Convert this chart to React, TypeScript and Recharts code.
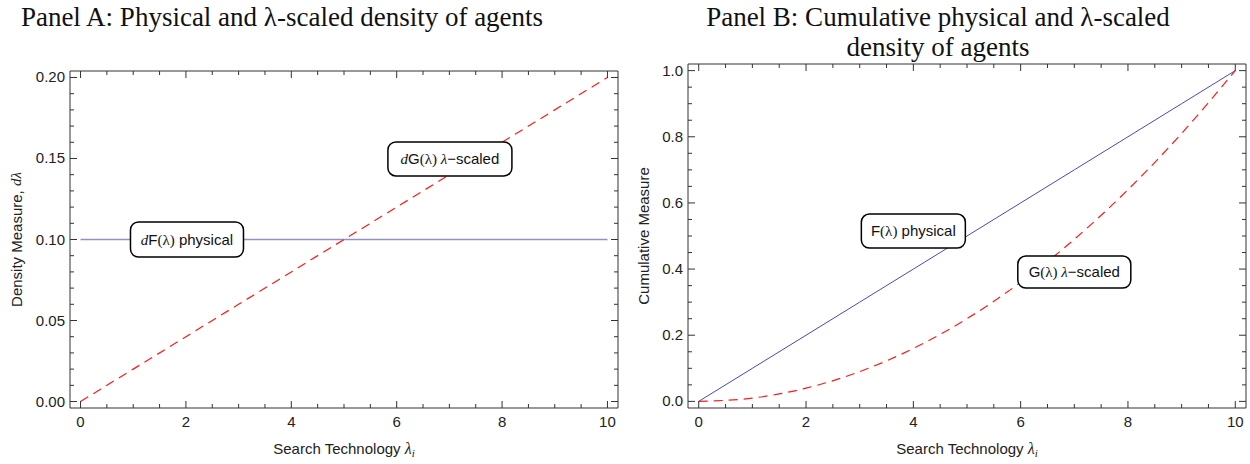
import { LineChart, Line, XAxis, YAxis, ReferenceDot } from "recharts";

// values
const lambdaValues = [0, 1, 2, 3, 4, 5, 6, 7, 8, 9, 10];
const densityPhysical = [0.1, 0.1, 0.1, 0.1, 0.1, 0.1, 0.1, 0.1, 0.1, 0.1, 0.1];
const densityScaled = [0, 0.02, 0.04, 0.06, 0.08, 0.1, 0.12, 0.14, 0.16, 0.18, 0.2];
const cumulativePhysical = [0, 0.1, 0.2, 0.3, 0.4, 0.5, 0.6, 0.7, 0.8, 0.9, 1.0];
const cumulativeScaled = [0, 0.01, 0.04, 0.09, 0.16, 0.25, 0.36, 0.49, 0.64, 0.81, 1.0];

const xMajorTicks = [0, 2, 4, 6, 8, 10];
const xMinorTicks = [0.5, 1, 1.5, 2.5, 3, 3.5, 4.5, 5, 5.5, 6.5, 7, 7.5, 8.5, 9, 9.5];
const densityMajorTicks = [0, 0.05, 0.1, 0.15, 0.2];
const densityMinorTicks = [
  0.01, 0.02, 0.03, 0.04, 0.06, 0.07, 0.08, 0.09, 0.11, 0.12, 0.13, 0.14, 0.16, 0.17, 0.18, 0.19,
];
const cumulativeMajorTicks = [0, 0.2, 0.4, 0.6, 0.8, 1.0];
const cumulativeMinorTicks = [0.05, 0.1, 0.15, 0.25, 0.3, 0.35, 0.45, 0.5, 0.55, 0.65, 0.7, 0.75, 0.85, 0.9, 0.95];

const densityData = lambdaValues.map((x, i) => ({ x, dF: densityPhysical[i], dG: densityScaled[i] }));
const cumulativeData = lambdaValues.map((x, i) => ({ x, F: cumulativePhysical[i], G: cumulativeScaled[i] }));

const SANS = "'Liberation Sans', Arial, sans-serif";
const SERIF = "'Liberation Serif', 'Times New Roman', serif";
const FRAME = "#333";
const TICK_GAP = 5;
const MAJOR_LEN = 7;
const MINOR_LEN = 4;
const FS = 15;

const allTicks = (a: number[], b: number[]) => [...a, ...b].sort((p, q) => p - q);

function frameTick(side: "bottom" | "top" | "left" | "right", majors: number[], digits: number) {
  return function FrameTick(props: any) {
    const { x, y, payload } = props;
    const v = payload.value as number;
    const major = majors.some((m) => Math.abs(m - v) < 1e-9);
    const len = major ? MAJOR_LEN : MINOR_LEN;
    let mark = null;
    let label = null;
    if (side === "bottom") {
      const ay = y - TICK_GAP;
      mark = <line x1={x} x2={x} y1={ay} y2={ay - len} stroke={FRAME} />;
      if (major)
        label = (
          <text x={x} y={ay + 19} textAnchor="middle" fontSize={FS} fontFamily={SANS} fill="#222">
            {v.toFixed(digits)}
          </text>
        );
    } else if (side === "top") {
      const ay = y + TICK_GAP;
      mark = <line x1={x} x2={x} y1={ay} y2={ay + len} stroke={FRAME} />;
    } else if (side === "left") {
      const ax = x + TICK_GAP;
      mark = <line x1={ax} x2={ax + len} y1={y} y2={y} stroke={FRAME} />;
      if (major)
        label = (
          <text x={ax - 5} y={y + 5} textAnchor="end" fontSize={FS} fontFamily={SANS} fill="#222">
            {v.toFixed(digits)}
          </text>
        );
    } else {
      const ax = x - TICK_GAP;
      mark = <line x1={ax} x2={ax - len} y1={y} y2={y} stroke={FRAME} />;
    }
    return (
      <g>
        {mark}
        {label}
      </g>
    );
  };
}

type Part = { t: string; serif?: boolean; italic?: boolean };

const renderParts = (parts: Part[]) =>
  parts.map((p, i) => (
    <tspan key={i} fontFamily={p.serif ? SERIF : SANS} fontStyle={p.italic ? "italic" : "normal"}>
      {p.t}
    </tspan>
  ));

function boxShape(parts: Part[], width: number, height: number) {
  return function BoxShape(props: any) {
    const { cx, cy } = props;
    return (
      <g>
        <rect
          x={cx - width / 2}
          y={cy - height / 2}
          width={width}
          height={height}
          rx={8}
          ry={8}
          fill="#fff"
          stroke="#000"
          strokeWidth={1.5}
        />
        <text x={cx} y={cy + 5} textAnchor="middle" fontSize={FS} fontFamily={SANS} fill="#111">
          {renderParts(parts)}
        </text>
      </g>
    );
  };
}

const xAxisTitle = (props: any) => {
  const { x, y, width } = props.viewBox;
  return (
    <text x={x + width / 2} y={y + 46} textAnchor="middle" fontSize={FS} fontFamily={SANS} fill="#222">
      Search Technology{" "}
      <tspan fontFamily={SERIF} fontStyle="italic" fontSize={16}>
        λ
      </tspan>
      <tspan fontFamily={SERIF} fontStyle="italic" fontSize={11} dy={3}>
        i
      </tspan>
    </text>
  );
};

function yAxisTitle(cx: number, parts: Part[]) {
  return function YTitle(props: any) {
    const { y, height } = props.viewBox;
    const cy = y + height / 2;
    return (
      <text
        x={cx}
        y={cy}
        transform={`rotate(-90 ${cx} ${cy})`}
        textAnchor="middle"
        dominantBaseline="middle"
        fontSize={FS}
        fontFamily={SANS}
        fill="#222"
      >
        {renderParts(parts)}
      </text>
    );
  };
}

const titleStyle: React.CSSProperties = {
  position: "absolute",
  fontFamily: SERIF,
  fontSize: 27,
  lineHeight: "30px",
  color: "#111",
  textAlign: "center",
  whiteSpace: "nowrap",
};

export default function App() {
  const xTicks = allTicks(xMajorTicks, xMinorTicks);
  const densityTicks = allTicks(densityMajorTicks, densityMinorTicks);
  const cumulativeTicks = allTicks(cumulativeMajorTicks, cumulativeMinorTicks);
  const xDomain = [-0.2, 10.2];
  const densityDomain = [-0.004, 0.204];
  const cumulativeDomain = [-0.02, 1.02];
  const commonAxis = {
    tickLine: false,
    tickSize: 0,
    tickMargin: TICK_GAP,
    interval: 0 as const,
    axisLine: { stroke: FRAME },
    allowDataOverflow: true,
    type: "number" as const,
  };

  return (
    <div style={{ position: "absolute", left: 0, top: 0, width: 1250, height: 464, background: "#fff" }}>
      <div style={{ ...titleStyle, left: 0, width: 564, top: 2 }}>
        Panel A: Physical and λ-scaled density of agents
      </div>
      <div style={{ ...titleStyle, left: 625, width: 626, top: 2 }}>
        Panel B: Cumulative physical and λ-scaled
        <br />
        density of agents
      </div>

      <div style={{ position: "absolute", left: 0, top: 0 }}>
        <LineChart width={625} height={464} data={densityData} margin={{ top: 70, right: 6, bottom: 0, left: 0 }}>
          <XAxis
            xAxisId={0}
            dataKey="x"
            domain={xDomain}
            ticks={xTicks}
            height={56}
            tick={frameTick("bottom", xMajorTicks, 0)}
            label={xAxisTitle}
            {...commonAxis}
          />
          <XAxis
            xAxisId="top"
            orientation="top"
            dataKey="x"
            domain={xDomain}
            ticks={xTicks}
            height={1}
            tick={frameTick("top", xMajorTicks, 0)}
            {...commonAxis}
          />
          <YAxis
            yAxisId={0}
            domain={densityDomain}
            ticks={densityTicks}
            width={70}
            tick={frameTick("left", densityMajorTicks, 2)}
            label={yAxisTitle(18, [{ t: "Density Measure, " }, { t: "dλ", serif: true, italic: true }])}
            {...commonAxis}
          />
          <YAxis
            yAxisId="right"
            orientation="right"
            domain={densityDomain}
            ticks={densityTicks}
            width={1}
            tick={frameTick("right", densityMajorTicks, 2)}
            {...commonAxis}
          />
          <Line
            type="linear"
            dataKey="dF"
            stroke="#9191c6"
            strokeWidth={1.6}
            dot={false}
            isAnimationActive={false}
          />
          <Line
            type="linear"
            dataKey="dG"
            stroke="#ff1a1a"
            strokeWidth={1.2}
            strokeDasharray="9 6"
            dot={false}
            isAnimationActive={false}
          />
          <ReferenceDot
            x={2.02}
            y={0.1}
            r={1}
            shape={boxShape(
              [{ t: "d", serif: true, italic: true }, { t: "F" }, { t: "(λ)", serif: true }, { t: " physical" }],
              113,
              35
            )}
          />
          <ReferenceDot
            x={7.01}
            y={0.1497}
            r={1}
            shape={boxShape(
              [
                { t: "d", serif: true, italic: true },
                { t: "G" },
                { t: "(λ) ", serif: true },
                { t: "λ", serif: true, italic: true },
                { t: "−scaled" },
              ],
              124,
              34
            )}
          />
        </LineChart>
      </div>

      <div style={{ position: "absolute", left: 625, top: 0 }}>
        <LineChart width={625} height={464} data={cumulativeData} margin={{ top: 63, right: 3, bottom: 0, left: 0 }}>
          <XAxis
            xAxisId={0}
            dataKey="x"
            domain={xDomain}
            ticks={xTicks}
            height={56}
            tick={frameTick("bottom", xMajorTicks, 0)}
            label={xAxisTitle}
            {...commonAxis}
          />
          <XAxis
            xAxisId="top"
            orientation="top"
            dataKey="x"
            domain={xDomain}
            ticks={xTicks}
            height={1}
            tick={frameTick("top", xMajorTicks, 0)}
            {...commonAxis}
          />
          <YAxis
            yAxisId={0}
            domain={cumulativeDomain}
            ticks={cumulativeTicks}
            width={63}
            tick={frameTick("left", cumulativeMajorTicks, 1)}
            label={yAxisTitle(20, [{ t: "Cumulative Measure" }])}
            {...commonAxis}
          />
          <YAxis
            yAxisId="right"
            orientation="right"
            domain={cumulativeDomain}
            ticks={cumulativeTicks}
            width={1}
            tick={frameTick("right", cumulativeMajorTicks, 1)}
            {...commonAxis}
          />
          <Line type="linear" dataKey="F" stroke="#4a4ab4" strokeWidth={1} dot={false} isAnimationActive={false} />
          <Line
            type="monotone"
            dataKey="G"
            stroke="#ff1a1a"
            strokeWidth={1.2}
            strokeDasharray="9 6"
            dot={false}
            isAnimationActive={false}
          />
          <ReferenceDot
            x={4.0}
            y={0.515}
            r={1}
            shape={boxShape([{ t: "F" }, { t: "(λ)", serif: true }, { t: " physical" }], 104, 34)}
          />
          <ReferenceDot
            x={7.0}
            y={0.391}
            r={1}
            shape={boxShape(
              [{ t: "G" }, { t: "(λ) ", serif: true }, { t: "λ", serif: true, italic: true }, { t: "−scaled" }],
              113,
              32
            )}
          />
        </LineChart>
      </div>
    </div>
  );
}
